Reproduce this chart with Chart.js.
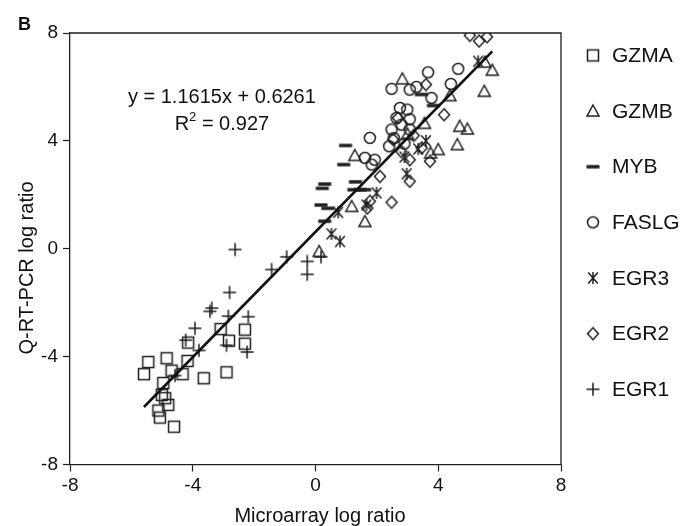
<!DOCTYPE html>
<html>
<head>
<meta charset="utf-8">
<script src="https://cdn.jsdelivr.net/npm/chart.js@4/dist/chart.umd.min.js"></script>
<style>
  html, body { margin: 0; padding: 0; background: #fff; }
  #wrap { width: 684px; height: 526px; }
</style>
</head>
<body>
<div id="wrap"><canvas id="chart" width="684" height="526"></canvas></div>
<script>
// Microarray log ratio (x) vs Q-RT-PCR log ratio (y), one pair of arrays per gene
const gzmaX  = [-5.59, -5.45, -4.85, -4.17, -4.69, -4.33, -3.64, -2.90, -4.15, -3.09, -2.82, -2.30, -2.30, -4.96, -5.01, -4.90, -4.80, -5.12, -5.07, -4.61];
const gzmaY  = [-4.65, -4.20, -4.06, -4.16, -4.52, -4.65, -4.80, -4.58, -3.48, -2.98, -3.41, -3.00, -3.52, -4.98, -5.42, -5.54, -5.79, -6.00, -6.26, -6.60];

const gzmbX  = [2.83, 5.52, 5.76, 5.50, 4.38, 4.70, 4.95, 4.62, 4.00, 3.75, 3.55, 1.28, 1.18, 1.61, 0.12, 3.00];
const gzmbY  = [6.30, 6.92, 6.62, 5.84, 5.68, 4.54, 4.44, 3.86, 3.68, 3.55, 4.65, 3.46, 1.57, 1.01, -0.10, 4.25];

const mybX   = [0.98, 0.92, 0.30, 0.22, 1.30, 1.25, 1.45, 1.60, 0.18, 0.40, 0.30, 3.45, 3.84];
const mybY   = [3.83, 3.12, 2.40, 2.24, 2.48, 2.19, 2.19, 2.19, 1.62, 1.50, 1.02, 5.72, 5.31];

const faslgX = [2.48, 3.67, 4.65, 3.07, 3.29, 4.41, 3.78, 2.75, 2.99, 2.64, 3.07, 2.48, 3.07, 1.77, 2.40, 1.61, 1.93, 1.83, 2.90, 2.80, 2.55];
const faslgY = [5.93, 6.54, 6.67, 5.90, 6.00, 6.11, 5.59, 5.22, 5.16, 4.85, 4.80, 4.42, 4.42, 4.11, 3.80, 3.37, 3.30, 3.12, 3.90, 4.60, 4.10];

const egr3X  = [5.30, 2.97, 1.99, 1.66, 0.74, 0.52, 0.80, 2.90, 3.35, 3.60];
const egr3Y  = [6.95, 2.78, 2.07, 1.62, 1.35, 0.55, 0.27, 3.40, 3.70, 4.00];

const egr2X  = [5.03, 5.33, 5.59, 3.60, 4.19, 2.69, 2.53, 3.46, 3.07, 3.73, 3.07, 2.10, 2.48, 1.77, 1.69, 3.20, 2.80];
const egr2Y  = [7.91, 7.70, 7.86, 6.09, 4.97, 4.85, 4.05, 3.74, 3.30, 3.24, 2.50, 2.68, 1.72, 1.76, 1.51, 4.20, 3.60];

const egr1X  = [-2.62, -0.94, -1.43, -0.27, -0.27, 0.18, -2.80, -3.38, -3.44, -2.84, -2.19, -3.93, -4.23, -3.80, -2.90, -2.23, -4.58];
const egr1Y  = [-0.03, -0.30, -0.77, -0.47, -0.95, -0.30, -1.62, -2.20, -2.32, -2.50, -2.52, -2.95, -3.39, -3.77, -3.58, -3.83, -4.70];

// Linear fit printed on the chart
const fitSlope = 1.1615;
const fitIntercept = 0.6261;
const fitR2 = 0.927;

// Axis ticks
const axisTicks = [-8, -4, 0, 4, 8];

const geneNames = ['GZMA', 'GZMB', 'MYB', 'FASLG', 'EGR3', 'EGR2', 'EGR1'];
const geneMarks = ['square', 'triangle', 'dash', 'circle', 'asterisk', 'diamond', 'plus'];
const geneXs = [gzmaX, gzmbX, mybX, faslgX, egr3X, egr2X, egr1X];
const geneYs = [gzmaY, gzmbY, mybY, faslgY, egr3Y, egr2Y, egr1Y];

const INK = '#1e1e1e';
const FONT = "'Liberation Sans', Arial, Helvetica, sans-serif";

// Marker glyphs drawn once into small canvases and used as point styles
function makeMarker(kind) {
  const s = 20, m = s / 2;
  const c = document.createElement('canvas');
  c.width = s; c.height = s;
  const g = c.getContext('2d');
  g.strokeStyle = INK; g.fillStyle = INK; g.lineWidth = 1.5;
  g.lineJoin = 'miter';
  g.beginPath();
  switch (kind) {
    case 'square':
      g.rect(m - 5.5, m - 5.5, 11, 11); g.stroke(); break;
    case 'triangle':
      g.moveTo(m, m - 6); g.lineTo(m + 6, m + 5); g.lineTo(m - 6, m + 5); g.closePath(); g.stroke(); break;
    case 'dash':
      g.fillRect(m - 6.5, m - 1.7, 13, 3.4); break;
    case 'circle':
      g.arc(m, m, 5.5, 0, Math.PI * 2); g.stroke(); break;
    case 'asterisk':
      g.moveTo(m - 4.8, m - 5.5); g.lineTo(m + 4.8, m + 5.5);
      g.moveTo(m + 4.8, m - 5.5); g.lineTo(m - 4.8, m + 5.5);
      g.moveTo(m, m - 6); g.lineTo(m, m + 6);
      g.stroke(); break;
    case 'diamond':
      g.moveTo(m, m - 6); g.lineTo(m + 5.5, m); g.lineTo(m, m + 6); g.lineTo(m - 5.5, m); g.closePath(); g.stroke(); break;
    case 'plus':
      g.moveTo(m - 6.5, m); g.lineTo(m + 6.5, m);
      g.moveTo(m, m - 6.5); g.lineTo(m, m + 6.5);
      g.stroke(); break;
  }
  return c;
}
const markerImgs = {};
geneMarks.forEach(k => { markerImgs[k] = makeMarker(k); });

const allX = geneXs.flat();
const xLo = Math.min(...allX), xHi = Math.max(...allX);

const datasets = [{
  type: 'line',
  label: 'fit',
  data: [xLo, xHi].map(x => ({ x: x, y: fitSlope * x + fitIntercept })),
  borderColor: '#111',
  borderWidth: 2.6,
  pointRadius: 0,
  fill: false
}];
geneNames.forEach((name, i) => {
  datasets.push({
    type: 'scatter',
    label: name,
    data: geneXs[i].map((x, j) => ({ x: x, y: geneYs[i][j] })),
    pointStyle: markerImgs[geneMarks[i]],
    pointRadius: 6,
    borderColor: INK,
    backgroundColor: 'transparent'
  });
});

// Frame, axis titles, fit annotation, panel letter and legend
const decorations = {
  id: 'decorations',
  afterDraw(chart) {
    const ctx = chart.ctx;
    const a = chart.chartArea;
    const xs = chart.scales.x, ys = chart.scales.y;
    ctx.save();
    ctx.strokeStyle = INK;
    ctx.lineWidth = 1.3;
    ctx.beginPath();
    ctx.moveTo(a.left, a.top); ctx.lineTo(a.right, a.top); ctx.lineTo(a.right, a.bottom);
    ctx.stroke();

    ctx.fillStyle = '#111';
    // axis titles
    ctx.font = '20px ' + FONT;
    ctx.textAlign = 'center';
    ctx.textBaseline = 'alphabetic';
    ctx.fillText('Microarray log ratio', 320, 522);
    ctx.save();
    ctx.translate(33, 268);
    ctx.rotate(-Math.PI / 2);
    ctx.fillText('Q-RT-PCR log ratio', 0, 0);
    ctx.restore();

    // panel letter
    ctx.font = 'bold 18px ' + FONT;
    ctx.textAlign = 'left';
    ctx.fillText('B', 18, 30);

    // regression equation and R²
    const ex = xs.getPixelForValue(-3.05);
    ctx.font = '20px ' + FONT;
    ctx.textAlign = 'center';
    ctx.textBaseline = 'middle';
    ctx.fillText('y = ' + fitSlope.toFixed(4) + 'x + ' + fitIntercept.toFixed(4), ex, ys.getPixelForValue(5.62));
    const r2y = ys.getPixelForValue(4.6);
    const partA = 'R', partB = ' = ' + fitR2.toFixed(3);
    ctx.font = '20px ' + FONT;
    const wA = ctx.measureText(partA).width, wB = ctx.measureText(partB).width;
    ctx.font = '13px ' + FONT;
    const wS = ctx.measureText('2').width;
    let x0 = ex - (wA + wS + wB) / 2;
    ctx.textAlign = 'left';
    ctx.font = '20px ' + FONT;
    ctx.fillText(partA, x0, r2y);
    ctx.font = '13px ' + FONT;
    ctx.fillText('2', x0 + wA, r2y - 7);
    ctx.font = '20px ' + FONT;
    ctx.fillText(partB, x0 + wA + wS, r2y);

    // legend
    ctx.font = '21px ' + FONT;
    ctx.textAlign = 'left';
    ctx.textBaseline = 'middle';
    geneNames.forEach((name, i) => {
      const cy = 55.4 + 55.65 * i;
      const img = markerImgs[geneMarks[i]];
      ctx.drawImage(img, 593 - img.width / 2, cy - img.height / 2);
      ctx.fillText(name, 612, cy + 1);
    });
    ctx.restore();
  }
};

const tickFont = { family: FONT, size: 19 };

new Chart(document.getElementById('chart'), {
  data: { datasets: datasets },
  options: {
    responsive: false,
    animation: false,
    devicePixelRatio: 1,
    layout: { padding: { top: 33, right: 123, left: 0, bottom: 0 } },
    plugins: { legend: { display: false }, tooltip: { enabled: false } },
    scales: {
      x: {
        type: 'linear', position: 'bottom', min: -8, max: 8,
        afterBuildTicks(s) { s.ticks = axisTicks.map(v => ({ value: v })); },
        ticks: { font: tickFont, color: '#111', padding: 3, maxRotation: 0 },
        grid: { drawOnChartArea: false, drawTicks: true, tickLength: 7, color: INK, tickWidth: 1.2 },
        border: { display: true, color: INK, width: 1.3 },
        afterFit(s) { s.height = 61.5; }
      },
      y: {
        type: 'linear', position: 'left', min: -8, max: 8,
        afterBuildTicks(s) { s.ticks = axisTicks.map(v => ({ value: v })); },
        ticks: { font: tickFont, color: '#111', padding: 5 },
        grid: { drawOnChartArea: false, drawTicks: true, tickLength: 7, color: INK, tickWidth: 1.2 },
        border: { display: true, color: INK, width: 1.3 },
        afterFit(s) { s.width = 70; }
      }
    }
  },
  plugins: [decorations]
});
</script>
</body>
</html>
